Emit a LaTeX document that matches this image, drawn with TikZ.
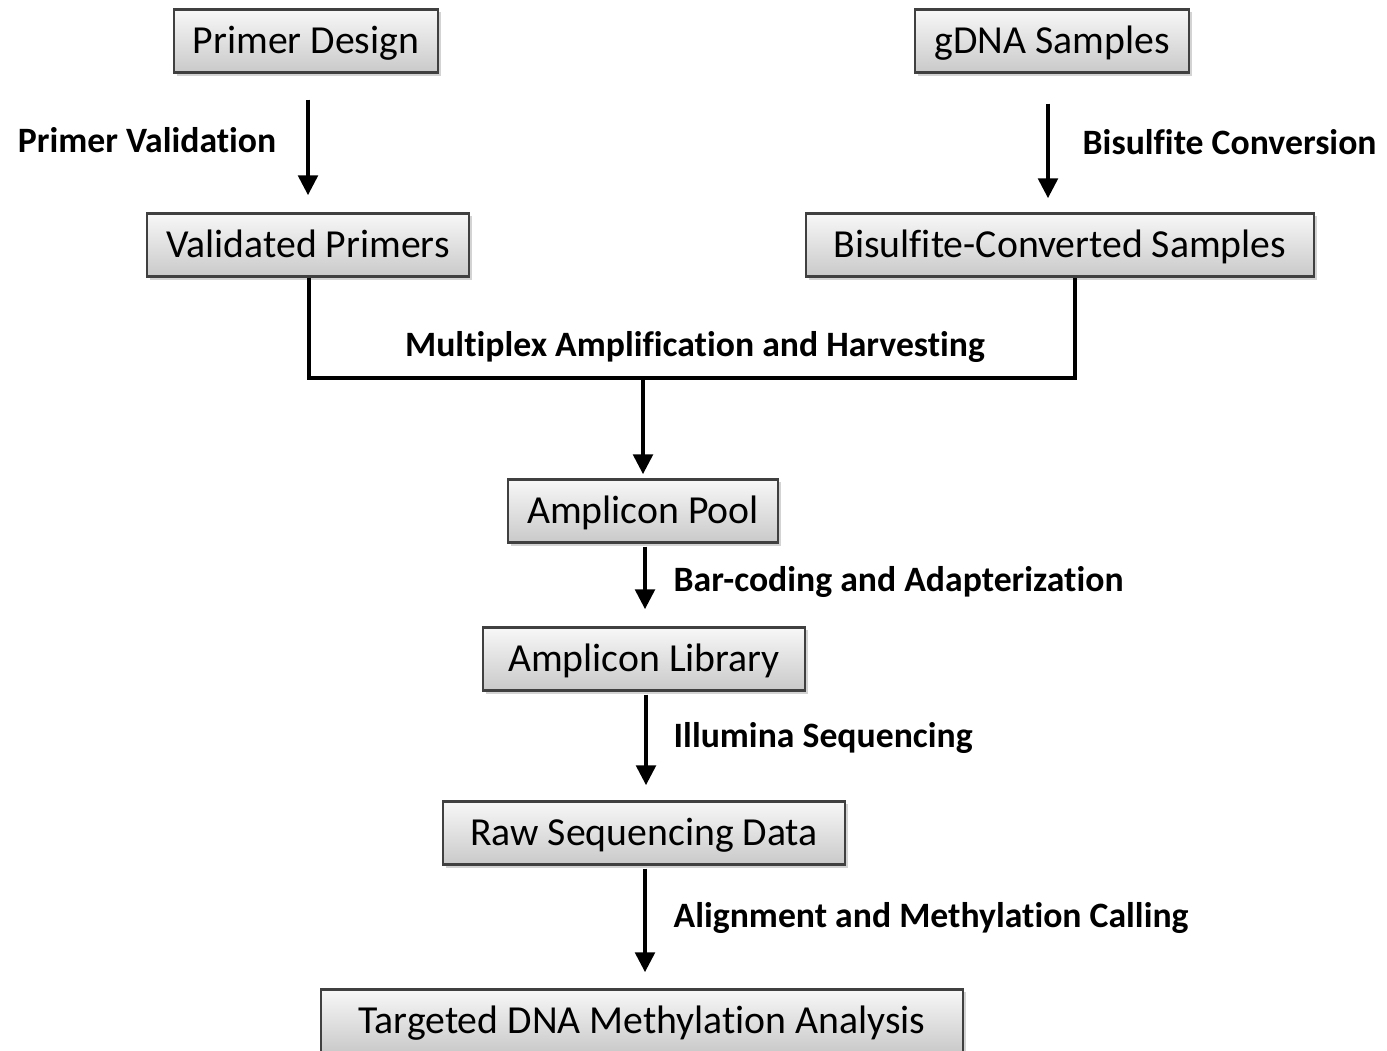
\documentclass[tikz,border=0pt]{standalone}
\usepackage{fontspec}
\setmainfont[Ligatures=NoCommon]{Carlito}
\usepackage{tikz}
\usetikzlibrary{shapes,arrows,positioning,calc,shadows,arrows.meta}

\tikzset{
    stepbox/.style={draw=black!75, line width=0.6pt, top color=gray!6, bottom color=gray!42,
        drop shadow={shadow xshift=0.03cm, shadow yshift=-0.03cm, opacity=0.35},
        minimum height=0.63cm, inner sep=0pt, text height=9.5pt, text depth=2.3pt,
        font=\fontsize{11.3}{13}\selectfont},
    steplabel/.style={inner sep=0pt, font=\fontsize{10.15}{12}\selectfont\bfseries},
    flow/.style={line width=1.4pt, -{Triangle[length=0.2cm, width=0.19cm]}},
    link/.style={line width=1.4pt, line join=miter}
}

\begin{document}
\begin{tikzpicture}[x=0.01cm, y=-0.01cm]
    \useasboundingbox (0,0) rectangle (1387,1051);

    % Boxes
    \node[stepbox, minimum width=2.63cm] (design) at (306,41) {Primer Design};
    \node[stepbox, minimum width=2.74cm] (gdna) at (1052,41) {gDNA Samples};
    \node[stepbox, minimum width=3.21cm] (valid) at (308,245) {Validated Primers};
    \node[stepbox, minimum width=5.08cm] (bisul) at (1060,245) {Bisulfite-Converted Samples};
    \node[stepbox, minimum width=2.69cm] (pool) at (643,511) {Amplicon Pool};
    \node[stepbox, minimum width=3.22cm] (library) at (644,659) {Amplicon Library};
    \node[stepbox, minimum width=4.02cm] (rawdata) at (644,833) {Raw Sequencing Data};
    \node[stepbox, minimum width=6.41cm] (target) at (642,1021) {Targeted DNA Methylation Analysis};

    % Joining bracket
    \coordinate (joinL) at (309,378);
    \coordinate (joinR) at (1075,378);
    \coordinate (joinM) at (643,378);

    % Arrows
    \draw[flow, shorten <=0.26cm, shorten >=0.17cm] (design.south -| valid.north) -- (valid.north);
    \draw[flow, shorten <=0.3cm, shorten >=0.14cm] ([xshift=-0.04cm]gdna.south) -- ([xshift=-0.04cm]gdna.south |- bisul.north);
    \draw[link] (valid.south -| joinL) -- (joinL) -- (joinR) -- (joinR |- bisul.south);
    \draw[flow, shorten >=0.04cm] (joinM) -- (joinM |- pool.north);
    \draw[flow, shorten <=0.03cm, shorten >=0.17cm] ([xshift=0.02cm]pool.south) -- ([xshift=0.02cm]pool.south |- library.north);
    \draw[flow, shorten <=0.03cm, shorten >=0.15cm] ([xshift=0.02cm]library.south) -- ([xshift=0.02cm]library.south |- rawdata.north);
    \draw[flow, shorten <=0.03cm, shorten >=0.16cm] ([xshift=0.01cm]rawdata.south) -- ([xshift=0.01cm]rawdata.south |- target.north);

    % Labels
    \node[steplabel, anchor=east] (lvalid) at (277,140) {Primer Validation};
    \node[steplabel, anchor=west] (lbisul) at (1082,142) {Bisulfite Conversion};
    \node[steplabel] (lmulti) at (695,347) {Multiplex Amplification and Harvesting};
    \node[steplabel, anchor=west] (lbar) at (673,582) {Bar-coding and Adapterization};
    \node[steplabel, anchor=west] (lillu) at (673,738) {Illumina Sequencing};
    \node[steplabel, anchor=west] (lalign) at (673,918) {Alignment and Methylation Calling};
\end{tikzpicture}
\end{document}
